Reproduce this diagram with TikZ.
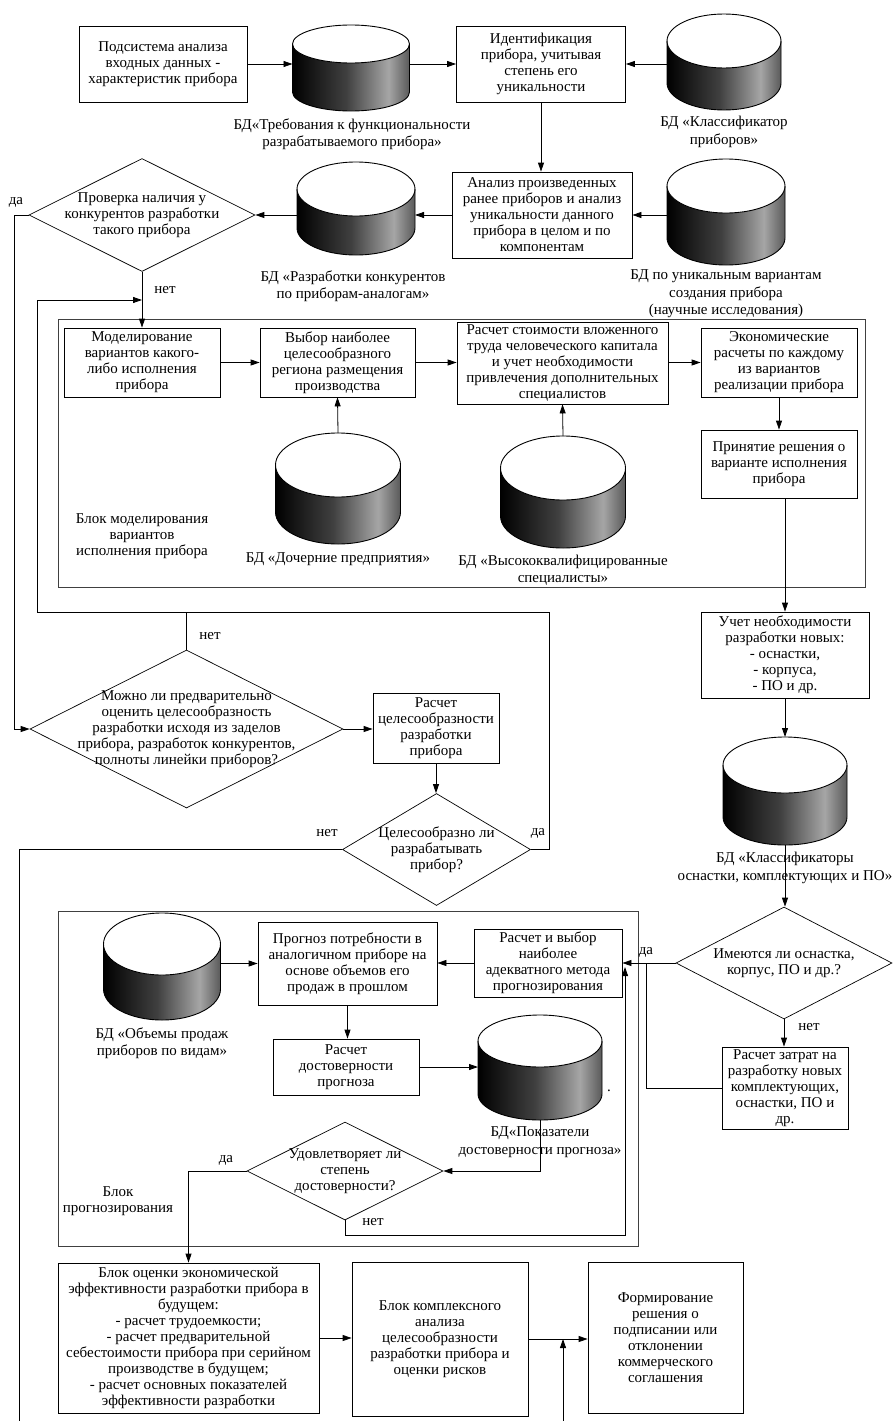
\documentclass[tikz,border=0pt]{standalone}
\usepackage{fontspec}
\setmainfont{Liberation Serif}
\usetikzlibrary{arrows.meta,shapes.geometric,calc}

\pgfdeclarehorizontalshading{bdsh}{100bp}{color(0bp)=(black); color(25bp)=(black); color(48bp)=(black!75); color(66bp)=(black!35); color(75bp)=(black!65); color(100bp)=(black!65)}

\tikzset{
  txt/.style={align=center, font=\fontsize{15}{16}\selectfont, inner sep=0pt},
  blok/.style={txt, draw, rectangle, line width=0.8pt},
  ramka/.style={draw=black!75, line width=0.9pt},
  romb/.style={draw, diamond, inner sep=0pt, line width=0.7pt},
  bdbox/.style={rectangle, inner sep=0pt, outer sep=0pt},
  bdfill/.style={shading=bdsh},
  podpis/.style={align=center, font=\fontsize{15}{17.5}\selectfont, inner sep=0pt},
  otvet/.style={font=\fontsize{15}{16}\selectfont, inner sep=0pt},
  strel/.style={->, line width=0.8pt},
  linia/.style={line width=0.8pt},
}

\newcommand{\bdcyl}[6]{%
  \node[bdbox, minimum width=#4, minimum height=#5] (#1) at (#2,{-(#3)-(#5)/2}) {};
  \shade[bdfill] ([yshift=-#6pt]#1.north west) -- ([yshift=#6pt]#1.south west)
    arc[start angle=180, end angle=360, x radius=#4/2, y radius=#6]
    -- ([yshift=-#6pt]#1.north east) -- cycle;
  \draw[line width=0.9pt, fill=white] ([yshift=-#6pt]#1.north) ellipse[x radius=#4/2, y radius=#6];
  \draw[line width=0.9pt] ([yshift=-#6pt]#1.north west) -- ([yshift=#6pt]#1.south west)
    arc[start angle=180, end angle=360, x radius=#4/2, y radius=#6]
    -- ([yshift=-#6pt]#1.north east);
}

\begin{document}
\begin{tikzpicture}[x=1pt,y=1pt,>={Triangle[length=9pt,width=6pt]}]
\useasboundingbox (0,0) rectangle (892,-1421);

\draw[ramka] (58,-319) rectangle (865,-587);
\draw[ramka] (58,-911) rectangle (638,-1246);

\node[blok, minimum width=168, minimum height=76] (bPods) at (163,-64) {Подсистема анализа\\входных данных -\\характеристик прибора};
\node[blok, minimum width=169, minimum height=76] (bIdent) at (541,-64) {Идентификация\\прибора, учитывая\\степень его\\уникальности};
\node[blok, minimum width=180, minimum height=86] (bAnaliz) at (542,-215) {Анализ произведенных\\ранее приборов и анализ\\уникальности данного\\прибора в целом и по\\компонентам};
\node[romb, minimum width=226, minimum height=113] (dProv) at (142,-215) {};
\node[txt] (dProvT) at (dProv) {Проверка наличия у\\конкурентов разработки\\такого прибора};

\bdcyl{bdTreb}{351}{25}{117}{86}{19}
\bdcyl{bdKlass}{724}{14}{114}{96}{27}
\bdcyl{bdUnik}{726}{159}{118}{106}{27}
\bdcyl{bdKonk}{356}{162}{118}{93}{27}

\node[podpis] (lbTreb) at (352,-134) {БД«Требования к функциональности\\разрабатываемого прибора»};
\node[podpis] (lbKlass) at (724,-132) {БД «Классификатор\\приборов»};
\node[podpis] (lbUnik) at (726,-294) {БД по уникальным вариантам\\создания прибора\\(научные исследования)};
\node[podpis] (lbKonk) at (353,-286) {БД «Разработки конкурентов\\по приборам-аналогам»};

\node[blok, minimum width=156, minimum height=69] (bModel) at (142,-362.5) {Моделирование\\вариантов какого-\\либо исполнения\\прибора};
\node[blok, minimum width=155, minimum height=69] (bVybor) at (337.5,-362.5) {Выбор наиболее\\целесообразного\\региона размещения\\производства};
\node[blok, minimum width=211, minimum height=82] (bStoim) at (562.5,-363) {Расчет стоимости вложенного\\труда человеческого капитала\\и учет необходимости\\привлечения дополнительных\\специалистов};
\node[blok, minimum width=156, minimum height=69] (bEkon) at (779,-362.5) {Экономические\\расчеты по каждому\\из вариантов\\реализации прибора};
\node[blok, minimum width=156, minimum height=68] (bPrin) at (779,-464) {Принятие решения о\\варианте исполнения\\прибора};
\node[txt] (tModel) at (142,-536) {Блок моделирования\\вариантов\\исполнения прибора};

\bdcyl{bdDoch}{338}{433}{125}{111}{32}
\bdcyl{bdSpec}{563}{436}{125}{112}{32}
\node[podpis] (lbDoch) at (338,-559) {БД «Дочерние предприятия»};
\node[podpis] (lbSpec) at (563,-570) {БД «Высококвалифицированные\\специалисты»};

\node[blok, minimum width=168, minimum height=86] (bUchet) at (785,-655) {Учет необходимости\\разработки новых:\\- оснастки,\\- корпуса,\\- ПО и др.};
\bdcyl{bdOsn}{785}{737}{124}{108}{28}
\node[podpis] (lbOsn) at (785,-868) {БД «Классификаторы\\оснастки, комплектующих и ПО»};

\node[romb, minimum width=313, minimum height=158] (dMozh) at (186.5,-729) {};
\node[txt] (dMozhT) at (dMozh) {Можно ли предварительно\\оценить целесообразность\\разработки исходя из заделов\\прибора, разработок конкурентов,\\полноты линейки приборов?};
\node[blok, minimum width=126, minimum height=70] (bRasCel) at (436,-728) {Расчет\\целесообразности\\разработки\\прибора};
\node[romb, minimum width=188, minimum height=112] (dCel) at (436.5,-849.5) {};
\node[txt] (dCelT) at (dCel) {Целесообразно ли\\разрабатывать\\прибор?};

\node[romb, minimum width=216, minimum height=112] (dImeyut) at (784,-963) {};
\node[txt] (dImeyutT) at (dImeyut) {Имеются ли оснастка,\\корпус, ПО и др.?};
\node[blok, minimum width=126, minimum height=82] (bZatrat) at (785,-1088) {Расчет затрат на\\разработку новых\\комплектующих,\\оснастки, ПО и\\др.};

\node[blok, minimum width=148, minimum height=68] (bVybMet) at (548,-963) {Расчет и выбор\\наиболее\\адекватного метода\\прогнозирования};
\node[blok, minimum width=179, minimum height=83] (bProgn) at (347.5,-963.5) {Прогноз потребности в\\аналогичном приборе на\\основе объемов его\\продаж в прошлом};
\node[blok, minimum width=146, minimum height=56] (bDost) at (346,-1067) {Расчет\\достоверности\\прогноза};
\bdcyl{bdProd}{162}{913}{117}{107}{31}
\bdcyl{bdPokaz}{540}{1015}{124}{105}{26}
\node[podpis] (lbProd) at (162,-1043) {БД «Объемы продаж\\приборов по видам»};
\node[podpis] (lbPokaz) at (540,-1142) {БД«Показатели\\достоверности прогноза»};
\node[otvet] (tochka) at (609,-1091) {.};
\node[romb, minimum width=196, minimum height=98] (dUdov) at (345,-1171) {};
\node[txt] (dUdovT) at (dUdov) {Удовлетворяет ли\\степень\\достоверности?};
\node[txt] (tProg) at (118,-1201) {Блок\\прогнозирования};

\node[blok, minimum width=261, minimum height=150] (bOcenka) at (188.5,-1338) {Блок оценки экономической\\эффективности разработки прибора в\\будущем:\\- расчет трудоемкости;\\- расчет предварительной\\себестоимости прибора при серийном\\производстве в будущем;\\- расчет основных показателей\\эффективности разработки};
\node[blok, minimum width=176, minimum height=154] (bKompl) at (440,-1339) {Блок комплексного\\анализа\\целесообразности\\разработки прибора и\\оценки рисков};
\node[blok, minimum width=155, minimum height=151] (bForm) at (665.5,-1337.5) {Формирование\\решения о\\подписании или\\отклонении\\коммерческого\\соглашения};

\node[otvet] (daProv) at (16,-202) {да};
\node[otvet] (netProv) at (165,-290) {нет};
\node[otvet] (netMozh) at (210,-636) {нет};
\node[otvet] (netCel) at (327,-833) {нет};
\node[otvet] (daCel) at (538,-833) {да};
\node[otvet] (daImeyut) at (646,-952) {да};
\node[otvet] (netImeyut) at (809,-1027) {нет};
\node[otvet] (daUdov) at (226,-1160) {да};
\node[otvet] (netUdov) at (373,-1222) {нет};

\coordinate (vozvrat) at (142,-300);
\coordinate (petlya) at (187,-612);
\coordinate (niz1) at (19,-1421);
\coordinate (niz2) at (563,-1421);
\coordinate (vybVhod) at (625,-967);

\draw[strel] (bPods.east) -- (bPods.east -| bdTreb.west);
\draw[strel] (bIdent.west -| bdTreb.east) -- (bIdent.west);
\draw[strel] (bIdent.east -| bdKlass.west) -- (bIdent.east);
\draw[strel] (bIdent.south) -- (bIdent.south |- bAnaliz.north);
\draw[strel] (bAnaliz.east -| bdUnik.west) -- (bAnaliz.east);
\draw[strel] (bAnaliz.west) -- (bAnaliz.west -| bdKonk.east);
\draw[strel] (dProv.east -| bdKonk.west) -- (dProv.east);
\draw[strel] (dProv.west) -- ++(-14,0) |- (dMozh.west);
\draw[strel] (dProv.south) -- (bModel.north);
\draw[strel] (dCel.east) -| (549,-612) -| (37,-300) -- (vozvrat);
\draw[linia] (dMozh.north) -- (dMozh.north |- petlya);
\draw[strel] (dMozh.east) -- (dMozh.east -| bRasCel.west);
\draw[strel] (bRasCel.south) -- (bRasCel.south |- dCel.north);
\draw[linia] (dCel.west) -| (niz1);

\draw[strel] (bModel.east) -- (bModel.east -| bVybor.west);
\draw[strel] (bVybor.east) -- (bVybor.east -| bStoim.west);
\draw[strel] (bStoim.east |- bEkon.west) -- (bEkon.west);
\draw[strel] (bdDoch.north) -- (bVybor.south);
\draw[strel] (bdSpec.north) -- (bStoim.south);
\draw[strel] (bEkon.south) -- (bPrin.north);
\draw[strel] (bUchet.north |- bPrin.south) -- (bUchet.north);
\draw[strel] (bUchet.south) -- (bdOsn.north);
\draw[strel] (bdOsn.south) -- (bdOsn.south |- dImeyut.north);

\draw[strel] (dImeyut.west) -- (dImeyut.west -| bVybMet.east);
\draw[strel] (dImeyut.south) -- (dImeyut.south |- bZatrat.north);
\draw[linia] (bZatrat.west) -| (646,-963);
\draw[strel] (bVybMet.west) -- (bVybMet.west -| bProgn.east);
\draw[strel] (bdProd.east |- bProgn.west) -- (bProgn.west);
\draw[strel] (bProgn.south) -- (bProgn.south |- bDost.north);
\draw[strel] (bDost.east) -- (bDost.east -| bdPokaz.west);
\draw[strel] (bdPokaz.south) |- (dUdov.east);
\draw[strel] (dUdov.west) -| (bOcenka.north);
\draw[strel] (dUdov.south) -- ++(0,-15) -| (vybVhod);

\draw[strel] (bOcenka.east) -- (bOcenka.east -| bKompl.west);
\draw[strel] (bKompl.east) -- (bKompl.east -| bForm.west);
\draw[strel] (niz2) -- (niz2 |- bKompl.east);
\end{tikzpicture}
\end{document}
